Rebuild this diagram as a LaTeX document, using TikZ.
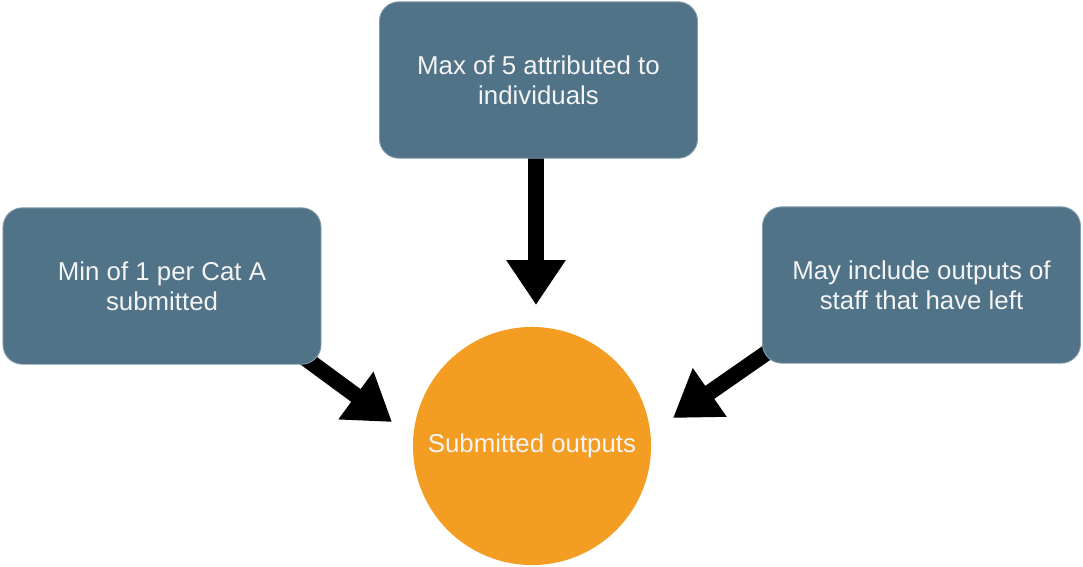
\documentclass[tikz,border=0pt]{standalone}
\usepackage{fontspec}
\setmainfont{Liberation Sans}
\usetikzlibrary{arrows.meta}
\definecolor{boxblue}{HTML}{507388}
\definecolor{circorange}{HTML}{F39D22}
\definecolor{txtwhite}{HTML}{F4F4F4}
\begin{document}
\begin{tikzpicture}[x=0.02cm,y=-0.02cm,
  infobox/.style={rectangle, rounded corners=11pt, fill=boxblue, draw=boxblue!70!white, line width=0.5pt,
    minimum width=181pt, minimum height=89pt, align=center, text=txtwhite,
    font=\fontsize{14.7pt}{17.3pt}\selectfont, inner sep=0pt},
  hub/.style={circle, fill=circorange, minimum size=135.5pt, inner sep=0pt, text=txtwhite,
    font=\fontsize{14.7pt}{17.3pt}\selectfont},
  bigarrow/.style={line width=9pt, draw=black, -{Triangle[width=32pt,length=25.5pt]}}
]
\useasboundingbox (0,0) rectangle (1083,566);
% arrow coordinates (drawn behind boxes)
\coordinate (ts) at (536,140);
\coordinate (tt) at (536,305);
\coordinate (ls) at (290,347);
\coordinate (lt) at (392,422);
\coordinate (rs) at (785,340);
\coordinate (rt) at (673,418);
\draw[bigarrow] (ts) -- (tt);
\draw[bigarrow] (ls) -- (lt);
\draw[bigarrow] (rs) -- (rt);
% nodes
\node[infobox] (top) at (538.5,80) {Max of 5 attributed to\\individuals};
\node[infobox] (left) at (162,286) {Min of 1 per Cat A\\submitted};
\node[infobox] (right) at (921.5,285) {May include outputs of\\staff that have left};
\node[hub] (hubnode) at (532,446) {Submitted outputs};
\end{tikzpicture}
\end{document}
